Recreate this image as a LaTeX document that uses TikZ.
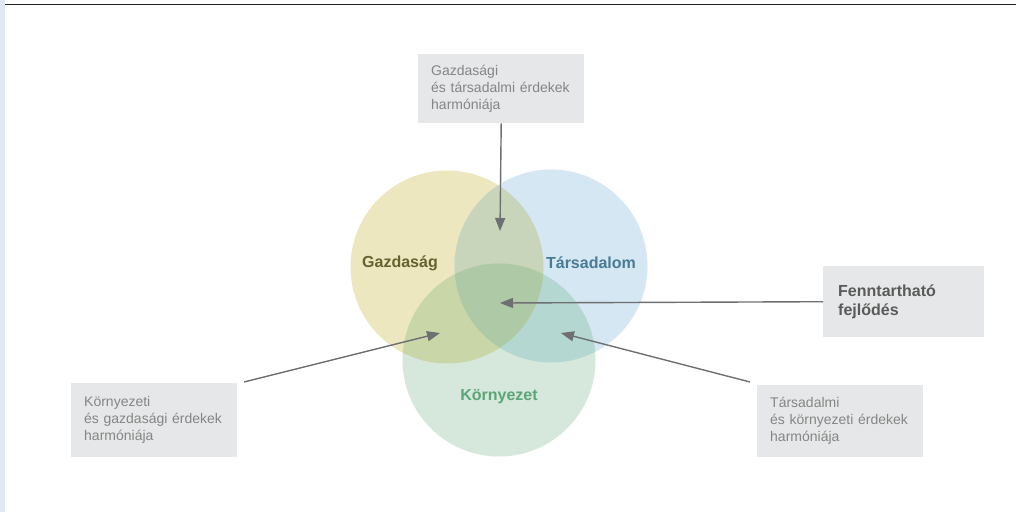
\documentclass[tikz,border=0pt]{standalone}
\usepackage{fontspec}
\setmainfont{Liberation Sans}
\usetikzlibrary{arrows.meta}
\definecolor{boxgray}{HTML}{E6E7E8}
\definecolor{txtgray}{HTML}{858585}
\definecolor{darkgray2}{HTML}{5A5A5A}
\definecolor{arrgray}{HTML}{6E6F71}
\definecolor{cyellow}{HTML}{EDE7C0}
\definecolor{cblue}{HTML}{D4E7F3}
\definecolor{cgreen}{HTML}{D6E7DC}
\definecolor{cyb}{HTML}{C8D5BA}
\definecolor{cyg}{HTML}{C9D6A8}
\definecolor{cbg}{HTML}{B4D8D1}
\definecolor{cybg}{HTML}{AEC9A6}
\definecolor{tgaz}{HTML}{66622E}
\definecolor{ttar}{HTML}{4A7A94}
\definecolor{tkor}{HTML}{5BA577}
\definecolor{strip}{HTML}{E1E8F1}
\tikzset{
  infobox/.style={fill=boxgray, draw=none, anchor=north west, inner xsep=13pt,
    align=left, text=txtgray, font=\fontsize{14}{17}\selectfont},
  venn/.style={circle, draw=none, minimum size=193pt, inner sep=0pt},
  vlabel/.style={font=\bfseries\fontsize{16}{19}\selectfont},
  pointer/.style={draw=arrgray, line width=1.4pt, -{Triangle[length=13pt,width=10pt]}},
}
\begin{document}
\begin{tikzpicture}[x=1pt,y=-1pt]
\useasboundingbox (0,0) rectangle (1016,512);
\fill[white] (0,0) rectangle (1016,512);
\fill[strip] (0,0) rectangle (5,512);
\draw[line width=1.3pt, black!87] (5,4.5) -- (1016,4.5);

\node[venn, fill=cyellow] (gaz) at (447,267) {};
\node[venn, fill=cblue] (tar) at (551,266) {};
\node[venn, fill=cgreen] (kor) at (499,360) {};
\begin{scope}
  \clip (551,266) circle (96.5);
  \fill[cbg] (499,360) circle (96.5);
\end{scope}
\begin{scope}
  \clip (447,267) circle (96.5);
  \fill[cyb] (551,266) circle (96.5);
  \fill[cyg] (499,360) circle (96.5);
  \clip (551,266) circle (96.5);
  \fill[cybg] (499,360) circle (96.5);
\end{scope}

\node[vlabel, text=tgaz] (lgaz) at (400,263) {Gazdaság};
\node[vlabel, text=ttar] (ltar) at (591,263) {Társadalom};
\node[vlabel, text=tkor] (lkor) at (499,397) {Környezet};

\node[infobox, minimum width=164pt, minimum height=69pt, text width=140pt] (btop) at (418,54)
  {Gazdasági\\és társadalmi érdekek\\harmóniája};
\node[infobox, minimum width=165pt, minimum height=74pt, text width=140pt] (bleft) at (71,383)
  {Környezeti\\és gazdasági érdekek\\harmóniája};
\node[infobox, minimum width=164pt, minimum height=72pt, text width=140pt] (bright) at (757,385)
  {Társadalmi\\és környezeti érdekek\\harmóniája};
\node[infobox, minimum width=159pt, minimum height=71pt, text width=131pt, inner xsep=15pt,
  text=darkgray2, font=\bfseries\fontsize{16}{19}\selectfont] (bfenn) at (823,266)
  {Fenntartható\\fejlődés};

\coordinate (ptop) at (500,231);
\coordinate (pcenter) at (500,303);
\coordinate (pleft) at (440,333);
\coordinate (pright) at (561,333);
\coordinate (sleft) at (244,382);
\coordinate (sright) at (750,382);

\draw[pointer] (btop.south) -- (ptop);
\draw[pointer] (bfenn.west) -- (pcenter);
\draw[pointer] (sleft) -- (pleft);
\draw[pointer] (sright) -- (pright);
\end{tikzpicture}
\end{document}
